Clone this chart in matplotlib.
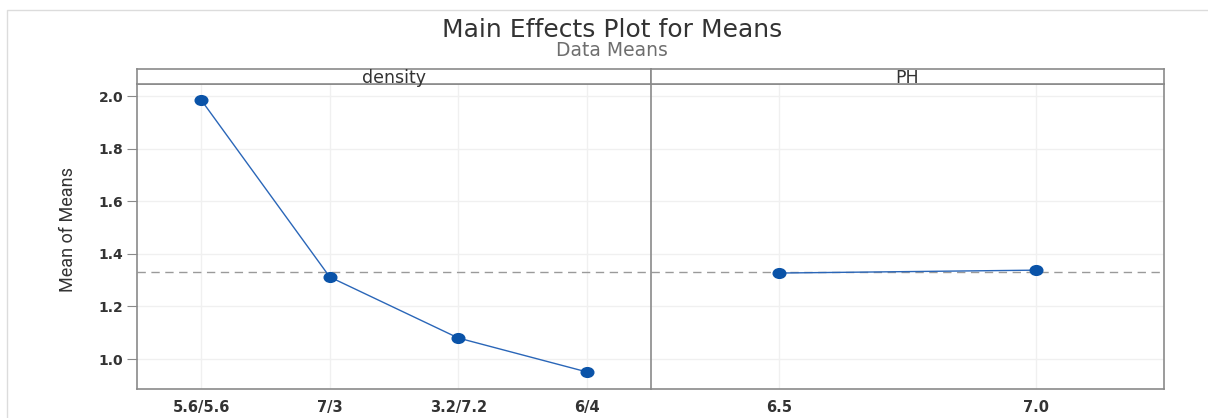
import matplotlib.pyplot as plt
from matplotlib.patches import Rectangle
from matplotlib.markers import MarkerStyle
from matplotlib.transforms import Affine2D
from matplotlib import font_manager

# factor levels and their data means
density_levels = ['5.6/5.6', '7/3', '3.2/7.2', '6/4']
density_means = [1.985, 1.312, 1.080, 0.951]
ph_levels = ['6.5', '7.0']
ph_means = [1.327, 1.338]
grand_mean = 1.332

y_ticks = [1.0, 1.2, 1.4, 1.6, 1.8, 2.0]

line_col = '#2a66b8'
dot_col = '#0a53a8'
frame_col = '#8a8a8a'
text_col = '#333333'

plt.rcParams['font.family'] = ['DejaVu Sans']

# narrow face for the y label if one is around
names = {f.name for f in font_manager.fontManager.ttflist}
narrow = 'Liberation Sans Narrow' if 'Liberation Sans Narrow' in names else 'Roboto'

fig = plt.figure(figsize=(12.08, 4.18), dpi=100)

# thin outer frame of the graph window
fig.patches.append(Rectangle((7 / 1208, -0.1), 1.2, 1 - 10 / 418 + 0.1,
                             transform=fig.transFigure, fill=False,
                             edgecolor='#dcdcdc', linewidth=1.0))

dot = MarkerStyle('o', transform=Affine2D().scale(1.3, 1.0))

bottom = 1 - 389 / 418
height = (389 - 84) / 418
strip_h = 15 / 418
panels = [
    (137 / 1208, 514 / 1208, 'density', density_levels, density_means),
    (651 / 1208, 513 / 1208, 'PH', ph_levels, ph_means),
]

for i, (left, width, name, levels, means) in enumerate(panels):
    ax = fig.add_axes([left, bottom, width, height])
    xs = list(range(len(levels)))
    ax.plot(xs, means, color=line_col, linewidth=1.0, marker=dot,
            markersize=7, markerfacecolor=dot_col, markeredgecolor=dot_col,
            zorder=3)
    ax.axhline(grand_mean, color='#9a9a9a', linestyle=(0, (6, 4)),
               linewidth=1.0, zorder=2)
    ax.set_xlim(-0.5, len(levels) - 0.5)
    ax.set_ylim(0.886, 2.046)
    ax.set_xticks(xs)
    ax.set_xticklabels(levels, fontsize=10.5, fontweight='bold',
                       color=text_col)
    ax.set_yticks(y_ticks)
    ax.grid(True, color='#f0f0f0', linewidth=1.0, zorder=0)
    ax.set_axisbelow(True)
    ax.tick_params(axis='x', length=0, pad=8)
    for side in ['left', 'right', 'bottom', 'top']:
        ax.spines[side].set_color(frame_col)
        ax.spines[side].set_linewidth(1.2)
    if i == 0:
        ax.set_yticklabels(['%.1f' % t for t in y_ticks], fontsize=10,
                           fontweight='bold', color=text_col)
        ax.tick_params(axis='y', length=7, color=frame_col, pad=3)
        ax.spines['right'].set_visible(False)
    else:
        ax.tick_params(axis='y', length=0, labelleft=False)

    # panel header strip
    sax = fig.add_axes([left, bottom + height, width, strip_h])
    sax.set_xticks([])
    sax.set_yticks([])
    for side in ['left', 'right', 'bottom', 'top']:
        sax.spines[side].set_color(frame_col)
        sax.spines[side].set_linewidth(1.2)
    sax.text(0.5, 0.42, name, ha='center', va='center', fontsize=12.5,
             color=text_col, transform=sax.transAxes)

fig.text(68 / 1208, 1 - 230 / 418, 'Mean of Means', rotation=90,
         ha='center', va='center', fontsize=13, color='#333333',
         family=[narrow, 'DejaVu Sans'], stretch='condensed')

fig.text(612 / 1208, 1 - 30 / 418, 'Main Effects Plot for Means',
         ha='center', va='center', fontsize=18, color='#333333')
fig.text(612 / 1208, 1 - 50 / 418, 'Data Means', ha='center', va='center',
         fontsize=13.5, color='#6e6e6e')

fig.savefig('out.png', dpi=100)
